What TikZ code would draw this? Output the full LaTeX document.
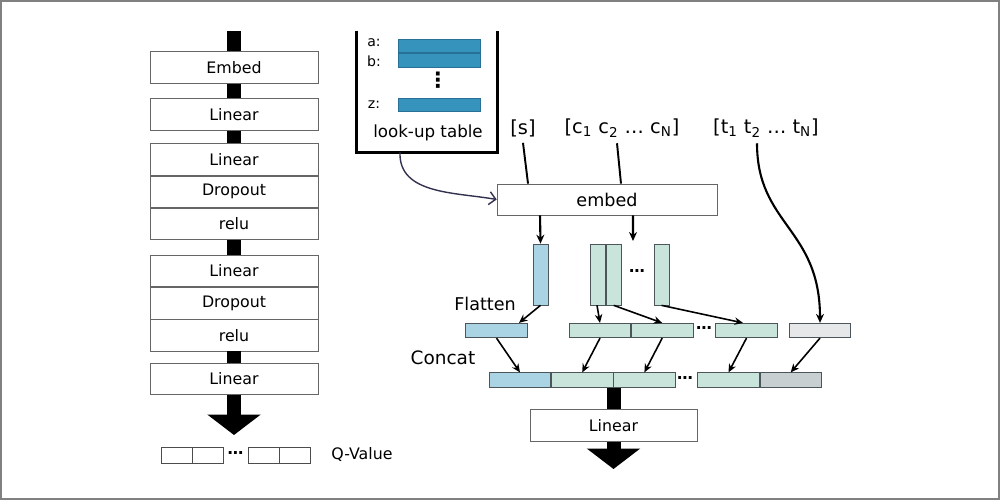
\documentclass[tikz,border=0pt]{standalone}
\usepackage{fontspec}
\setmainfont{DejaVu Sans}
\usetikzlibrary{arrows.meta,positioning}
\definecolor{lutblue}{RGB}{53,147,188}
\definecolor{lutedge}{RGB}{40,112,150}
\definecolor{sblue}{RGB}{170,211,228}
\definecolor{cgreen}{RGB}{201,228,218}
\definecolor{tgray}{RGB}{230,231,232}
\definecolor{tgrayd}{RGB}{200,207,209}
\definecolor{celledge}{RGB}{75,85,90}
\definecolor{navy}{RGB}{50,50,80}

\begin{document}
\begin{tikzpicture}[
    x=0.02cm, y=-0.02cm,
    every node/.style={font=\small},
    layer/.style={draw=black!60, fill=white, minimum width=3.36cm, minimum height=0.63cm, inner sep=0pt},
    qcell/.style={draw=black!70, minimum width=0.62cm, minimum height=0.32cm, inner sep=0pt},
    pipe/.style={line width=0.28cm},
    fat/.style={pipe, -{Triangle[width=1.05cm, length=0.41cm]}},
    lutrow/.style={draw=lutedge, fill=lutblue, minimum width=1.64cm, minimum height=0.27cm, inner sep=0pt},
    vec/.style={draw=celledge, minimum width=0.3cm, minimum height=1.22cm, inner sep=0pt},
    cell/.style={draw=celledge, minimum width=1.23cm, minimum height=0.29cm, inner sep=0pt},
    input/.style={font=\fontsize{11}{13}\selectfont},
    feed/.style={line width=1.1pt},
    flow/.style={-{Stealth[length=1.7mm, width=1.5mm]}, line width=0.9pt},
    tflow/.style={-{Stealth[length=1.8mm, width=1.6mm]}, line width=1.2pt},
    lookup/.style={-{Straight Barb[length=1.3mm]}, draw=navy, line width=0.8pt}
]
\useasboundingbox (0,0) rectangle (1000,500);
\draw[gray, line width=0.04cm] (1,1) rectangle (999,499);

% left: network stack
\coordinate (top) at (234,31);
\node[layer] (embedl) at (234,67.5) {Embed};
\node[layer] (lin1) at (234,114.5) {Linear};
\node[layer] (lin2) at (234,159.5) {Linear};
\node[layer, below=0pt of lin2] (drop1) {Dropout};
\node[layer, below=0pt of drop1] (relu1) {relu};
\node[layer] (lin3) at (234,271) {Linear};
\node[layer, below=0pt of lin3] (drop2) {Dropout};
\node[layer, below=0pt of drop2] (relu2) {relu};
\node[layer] (lin4) at (234,379) {Linear};
\coordinate (qtip) at (234,435);
\draw[pipe] (top) -- (embedl.north);
\draw[pipe] (embedl.south) -- (lin1.north);
\draw[pipe] (lin1.south) -- (lin2.north);
\draw[pipe] (relu1.south) -- (lin3.north);
\draw[pipe] (relu2.south) -- (lin4.north);
\draw[fat] (lin4.south) -- (qtip);

% q-values
\node[qcell] (q1) at (176.5,455) {};
\node[qcell, right=0pt of q1] (q2) {};
\node[font=\small\bfseries] (qdots) at (235.5,453) {…};
\node[qcell] (q3) at (263.5,455) {};
\node[qcell, right=0pt of q3] (q4) {};
\node (qval) at (362,455) {Q-Value};

% look-up table
\node[minimum width=2.8cm, minimum height=2.42cm, inner sep=0pt] (lut) at (427,91.5) {};
\draw[line width=1.7pt] (lut.north west) -- (lut.south west) -- (lut.south east) -- (lut.north east);
\node[lutrow] (ra) at (439,46) {};
\node[lutrow, below=0pt of ra] (rb) {};
\node[lutrow] (rz) at (439,105) {};
\node[font=\footnotesize] (la) at (374,43) {a:};
\node[font=\footnotesize] (lb) at (374,61) {b:};
\node[font=\footnotesize] (lz) at (374,105) {z:};
\node[font=\large\bfseries] (vd) at (438,80) {⋮};
\node[font=\fontsize{9.5}{11}\selectfont] (lt) at (428,133) {look-up table};

% inputs and embedding
\node[input] (s) at (523,128) {[s]};
\node[input] (c) at (622,128) {[c\textsubscript{1} c\textsubscript{2} … c\textsubscript{N}]};
\node[input] (t) at (766,128) {[t\textsubscript{1} t\textsubscript{2} … t\textsubscript{N}]};
\node[draw=black!60, minimum width=4.4cm, minimum height=0.62cm, inner sep=0pt, font=\normalsize] (embed) at (607,199.5) {embed};
\draw[lookup] ([xshift=-0.54cm]lut.south) to[out=-92, in=170] (embed.west);
\draw[feed] (s.south) -- ([xshift=-1.58cm]embed.north);
\draw[feed] ([xshift=-0.1cm]c.south) -- ([xshift=0.28cm]embed.north);

% embedded vectors
\node[vec, fill=sblue] (sv) at (540.5,274.5) {};
\node[vec, fill=cgreen] (cv1) at (598,274.5) {};
\node[vec, fill=cgreen, right=0pt of cv1] (cv2) {};
\node[font=\small\bfseries] (cvdots) at (637,271) {…};
\node[vec, fill=cgreen] (cv3) at (661.5,274.5) {};
\coordinate (cin) at (633,241);
\draw[tflow] ([xshift=-1.34cm]embed.south) -- (sv.north);
\draw[tflow] ([xshift=0.52cm]embed.south) -- (cin);

% flatten
\node[font=\normalsize] (flat) at (485,304) {Flatten};
\node[cell, fill=sblue] (fs) at (496.5,330.5) {};
\node[cell, fill=cgreen] (fc1) at (600,330.5) {};
\node[cell, fill=cgreen, right=0pt of fc1] (fc2) {};
\node[font=\small\bfseries] (fdots) at (704,328) {…};
\node[cell, fill=cgreen] (fc3) at (746.5,330.5) {};
\node[cell, fill=tgray] (ft) at (820,330.5) {};
\draw[flow] (sv.south) -- ([xshift=0.45cm]fs.north);
\draw[flow] ([xshift=-0.02cm]cv1.south) -- (fc1.north);
\draw[flow] (cv2.south) -- (fc2.north);
\draw[flow] (cv3.south) -- ([xshift=-0.07cm]fc3.north);
\draw[tflow] ([xshift=-0.18cm]t.south) .. controls (757,225) and (820,228) .. (ft.north);

% concat
\node[font=\fontsize{10.5}{12}\selectfont] (concat) at (443,358) {Concat};
\node[cell, fill=sblue] (gs) at (520,380) {};
\node[cell, fill=cgreen, right=0pt of gs] (gc1) {};
\node[cell, fill=cgreen, right=0pt of gc1] (gc2) {};
\node[font=\small\bfseries] (gdots) at (685,378) {…};
\node[cell, fill=cgreen] (gc3) at (728.5,380) {};
\node[cell, fill=tgrayd, right=0pt of gc3] (gt) {};
\draw[flow] (fs.south) -- (gs.north);
\draw[flow] (fc1.south) -- (gc1.north);
\draw[flow] (fc2.south) -- (gc2.north);
\draw[flow] (fc3.south) -- (gc3.north);
\draw[flow] (ft.south) -- (gt.north);

% output
\node[layer, minimum width=3.34cm] (outlin) at (613.5,425.5) {Linear};
\coordinate (otip) at (613.5,469);
\draw[pipe] (outlin.north |- gc1.south) -- (outlin.north);
\draw[fat] (outlin.south) -- (otip);
\end{tikzpicture}
\end{document}
